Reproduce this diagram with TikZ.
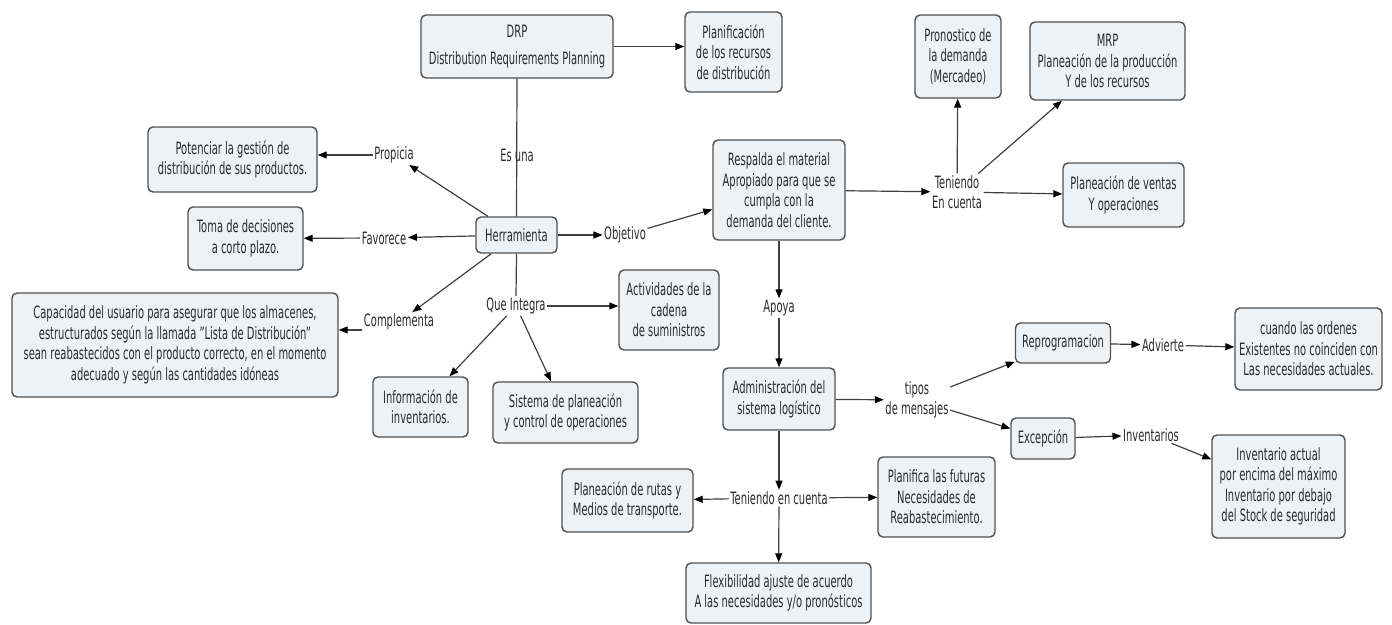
\documentclass[tikz,border=0pt]{standalone}
\usepackage{fontspec}
\setmainfont{DejaVu Sans}[FakeStretch=0.585]
\usetikzlibrary{arrows.meta}
\definecolor{boxfill}{HTML}{EEF2F5}
\definecolor{boxborder}{HTML}{505050}
\definecolor{linegray}{HTML}{404040}
\definecolor{txt}{HTML}{2A2A2A}
\newcommand{\cmfont}{\fontsize{17pt}{20.5pt}\selectfont}
\tikzset{
  concept/.style={draw=boxborder, fill=boxfill, rounded corners=5pt, line width=1.4pt,
    align=center, inner sep=2pt, font=\cmfont, text=txt},
  linkphrase/.style={align=center, inner sep=1.5pt, font=\cmfont, text=txt},
  conn/.style={draw=linegray, line width=1.2pt},
  arr/.style={conn, -{Triangle[length=9pt,width=7pt,color=black]}},
}
\begin{document}
\begin{tikzpicture}[x=1pt,y=-1pt]
\useasboundingbox[fill=white] (0,0) rectangle (1392,624);

% concepts
\node[concept, minimum width=192pt, minimum height=63pt] (drp) at (517,46.5) {DRP\\[6pt]Distribution Requirements Planning};
\node[concept, minimum width=97pt, minimum height=80pt] (plan) at (733.5,52) {Planificación\\de los recursos\\de distribución};
\node[concept, minimum width=169pt, minimum height=65pt] (pot) at (232.5,159.5) {Potenciar la gestión de\\distribución de sus productos.};
\node[concept, minimum width=115pt, minimum height=63pt] (toma) at (245.5,238.5) {Toma de decisiones\\a corto plazo.};
\node[concept, minimum width=326pt, minimum height=104pt] (cap) at (175,345) {Capacidad del usuario para asegurar que los almacenes,\\estructurados según la llamada "Lista de Distribución"\\sean reabastecidos con el producto correcto, en el momento\\adecuado y según las cantidades idóneas};
\node[concept, minimum width=81pt, minimum height=36pt] (herr) at (516.5,235) {Herramienta};
\node[concept, minimum width=132pt, minimum height=100pt] (resp) at (779,190) {Respalda el material\\Apropiado para que se\\cumpla con la\\demanda del cliente.};
\node[concept, minimum width=100pt, minimum height=80pt] (act) at (669,310) {Actividades de la\\cadena\\de suministros};
\node[concept, minimum width=95pt, minimum height=60pt] (info) at (420.5,407) {Información de\\inventarios.};
\node[concept, minimum width=145pt, minimum height=61pt] (sis) at (565.5,412.5) {Sistema de planeación\\y control de operaciones};
\node[concept, minimum width=112pt, minimum height=62pt] (admin) at (779,399) {Administración del\\sistema logístico};
\node[concept, minimum width=86pt, minimum height=83pt] (pron) at (958,56.5) {Pronostico de\\la demanda\\(Mercadeo)};
\node[concept, minimum width=155pt, minimum height=78pt] (mrp) at (1107.5,61) {MRP\\Planeación de la producción\\Y de los recursos};
\node[concept, minimum width=121pt, minimum height=64pt] (pv) at (1123.5,195) {Planeación de ventas\\Y operaciones};
\node[concept, minimum width=95pt, minimum height=40pt] (reprog) at (1063,343) {Reprogramacion};
\node[concept, minimum width=147pt, minimum height=82pt] (cuando) at (1308.5,349) {cuando las ordenes\\Existentes no coinciden con\\Las necesidades actuales.};
\node[concept, minimum width=64pt, minimum height=41pt] (exc) at (1043,438.5) {Excepción};
\node[concept, minimum width=133pt, minimum height=103pt] (invact) at (1278.5,486.5) {Inventario actual\\por encima del máximo\\Inventario por debajo\\del Stock de seguridad};
\node[concept, minimum width=131pt, minimum height=63pt] (rutas) at (627.5,500.5) {Planeación de rutas y\\Medios de transporte.};
\node[concept, minimum width=117pt, minimum height=80pt] (planif) at (936.5,497) {Planifica las futuras\\Necesidades de\\Reabastecimiento.};
\node[concept, minimum width=185pt, minimum height=60pt] (flex) at (778.5,593) {Flexibilidad ajuste de acuerdo\\A las necesidades y/o pronósticos};

% linking phrases
\node[linkphrase] (prop) at (394,155) {Propicia};
\node[linkphrase] (fav) at (384,238) {Favorece};
\node[linkphrase] (obj) at (625,235) {Objetivo};
\node[linkphrase] (compl) at (399,322) {Complementa};
\node[linkphrase] (qi) at (516,306) {Que Integra};
\node[linkphrase] (ten1) at (957,192) {Teniendo\\En cuenta};
\node[linkphrase] (apoya) at (779,308) {Apoya};
\node[linkphrase] (tipos) at (917,400) {tipos\\de mensajes};
\node[linkphrase] (adv) at (1163,345) {Advierte};
\node[linkphrase] (inv) at (1151,435) {Inventarios};
\node[linkphrase] (ten2) at (779,498) {Teniendo en cuenta};

% connectors
\draw[conn] (drp.south) -- (herr.north);
\node[linkphrase] (esuna) at (517,155) {Es una};
\draw[arr] (drp) -- (drp.east -| plan.west);
\draw[arr] (herr) -- (prop);
\draw[arr] (prop.west) -- (prop.west -| pot.east);
\draw[arr] (herr) -- (fav);
\draw[arr] (fav) -- (toma);
\draw[arr] (herr) -- (compl);
\draw[arr] (compl.south west) ++(0,-2) coordinate (cw) -- (cw -| cap.east);
\draw[arr] (herr) -- (obj);
\draw[arr] (obj) -- (resp);
\draw[conn] (herr.south) -- (qi.north);
\draw[arr] (qi) -- (qi.east -| act.west);
\draw[arr] (qi) -- (info);
\draw[arr] (qi) -- (sis);
\draw[arr] (resp) -- (ten1);
\draw[arr] (ten1) -- (pron);
\draw[arr] (ten1) -- (mrp);
\draw[arr] (ten1) -- (pv);
\draw[arr] (resp) -- (apoya);
\draw[arr] (apoya) -- (admin);
\draw[arr] (admin) -- (tipos);
\draw[arr] (tipos) -- (reprog);
\draw[arr] (tipos) -- (exc);
\draw[arr] (reprog) -- (adv);
\draw[arr] (adv) -- (cuando);
\draw[arr] (exc) -- (inv);
\draw[arr] (inv) -- (invact);
\draw[arr] (admin) -- (ten2);
\draw[arr] (ten2) -- (rutas);
\draw[arr] (ten2) -- (planif);
\draw[arr] (ten2) -- (flex);
\end{tikzpicture}
\end{document}
